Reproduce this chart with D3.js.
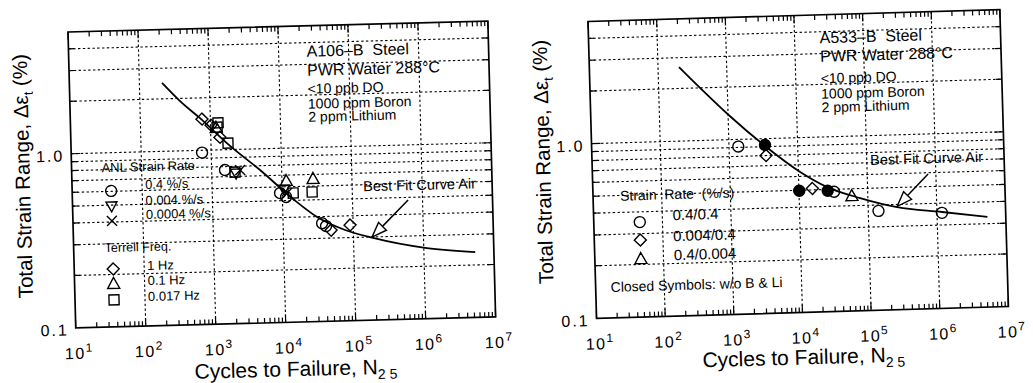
<!DOCTYPE html>
<html><head><meta charset="utf-8">
<script src="https://cdn.jsdelivr.net/npm/d3@7"></script>
<style>
html,body{margin:0;padding:0;background:#fff;}
svg{display:block;font-family:"Liberation Sans",Arial,Helvetica,sans-serif;}
text{fill:#000;white-space:pre;}
</style></head><body>
<svg id="chart" width="1033" height="383"></svg>
<script>
// ---------------- DATA ----------------
const xDomain = [10, 1e7];
const yDomain = [0.1, 5];
const xTickExponents = [1, 2, 3, 4, 5, 6, 7];
const xGridValues = [1e2, 1e3, 1e4, 1e5, 1e6];
const yGridValues = [0.2, 0.3, 0.4, 0.5, 0.6, 0.7, 0.8, 0.9, 1, 2, 3, 4];
const yTickValues = [0.1, 1.0];
const yTickLabels = ["0.1", "1.0"];

// Left: A106-B steel  [cycles, strain range %]
const a106Anl04 = [[740,0.97],[1550,0.765],[9300,0.553],[11300,0.524],[36100,0.366],[41000,0.352]];
const a106Anl0004 = [[2220,0.732],[10600,0.582]];
const a106Anl00004 = [[2550,0.76],[11700,0.552]];
const a106Terrell1Hz = [[760,1.51],[1020,1.39],[1350,1.18],[48200,0.333],[90400,0.354]];
const a106Terrell01Hz = [[1200,1.34],[11500,0.647],[27800,0.659]];
const a106Terrell0017Hz = [[1285,1.43],[1240,1.35],[1750,1.09],[2150,0.741],[14300,0.551],[26700,0.555]];
const a106AirCurve = [[211,2.47],[375,1.93],[713,1.53],[1870,1.05],[4910,0.755],[14200,0.509],[30800,0.398],[76400,0.332],[190000,0.296],[1.11e6,0.254],[5.4e6,0.237]];
const a106Arrow = [[622000,0.483],[184000,0.2995]];
const a106Info = ["A106\u2013B  Steel", "PWR Water 288\u00b0C", "<10 ppb DO", "1000 ppm Boron", "2 ppm Lithium"];
const a106LegendHeaders = ["ANL Strain Rate", "Terrell Freq."];
const a106LegendLabels = ["0.4 %/s", "0.004 %/s", "0.0004 %/s", "1 Hz", "0.1 Hz", "0.017 Hz"];

// Right: A533-B steel
const a533Open04 = [[1365,0.91],[32400,0.484],[141000,0.37],[1.18e6,0.352]];
const a533Closed04 = [[3350,0.92],[10100,0.497],[26200,0.492]];
const a533Diamond = [[3430,0.80],[15700,0.51]];
const a533Triangle = [[58500,0.454]];
const a533AirCurve = [[202,2.65],[401,2.0],[1067,1.36],[3350,0.907],[10600,0.636],[25800,0.516],[77100,0.441],[265000,0.386],[1.19e6,0.356],[5.4e6,0.328]];
const a533Arrow = [[771000,0.59],[265000,0.39]];
const a533Info = ["A533\u2013B  Steel", "PWR Water 288\u00b0C", "<10 ppb DO", "1000 ppm Boron", "2 ppm Lithium"];
const a533LegendHeader = "Strain  Rate  (%/s)";
const a533LegendLabels = ["0.4/0.4", "0.004/0.4", "0.4/0.004"];
const a533Note = "Closed Symbols: w/o B & Li";
const curveLabel = "Best Fit Curve Air";

// ---------------- DRAWING ----------------
const svg = d3.select("#chart");
const INK = "#000";

const shapes = {
  circle: "M5.5,0A5.5,5.5 0 1,1 -5.5,0A5.5,5.5 0 1,1 5.5,0Z",
  diamond: "M0,-6L6,0L0,6L-6,0Z",
  square: "M-5,-5H5V5H-5Z",
  triUp: "M0,-6.5L6,4.5L-6,4.5Z",
  triDown: "M0,6L-5.5,-4L5.5,-4Z",
  cross: "M-5,-5L5,5M5,-5L-5,5"
};

function marker(g, shape, px, py, filled) {
  g.append("path").attr("d", shapes[shape])
    .attr("transform", `translate(${px},${py})`)
    .attr("fill", filled ? INK : "none")
    .attr("stroke", INK).attr("stroke-width", 1.4);
}

function drawPanel(cfg) {
  const g = svg.append("g")
    .attr("transform", `translate(${cfg.tx},${cfg.ty}) rotate(${cfg.angle})`);
  const x = d3.scaleLog().domain(xDomain).range([0, cfg.W]);
  const y = d3.scaleLog().domain(yDomain).range([cfg.H, 0]);
  const W = cfg.W, H = cfg.H;

  // dotted grid
  g.selectAll(".vg").data(xGridValues).join("line")
    .attr("x1", d => x(d)).attr("x2", d => x(d)).attr("y1", 0).attr("y2", H)
    .attr("stroke", INK).attr("stroke-width", 1.1).attr("stroke-dasharray", "2.4,2.4");
  g.selectAll(".hg").data(yGridValues).join("line")
    .attr("x1", 0).attr("x2", W).attr("y1", d => y(d)).attr("y2", d => y(d))
    .attr("stroke", INK).attr("stroke-width", 1.1).attr("stroke-dasharray", "2.4,2.4");

  // minor/major ticks on x (top & bottom)
  const xt = [];
  for (let e = 1; e < 7; e++) for (let m = 1; m < 10; m++) xt.push([m * Math.pow(10, e), m === 1]);
  xt.push([1e7, true]);
  xt.forEach(([v, maj]) => {
    const len = maj ? 8 : 5;
    g.append("line").attr("x1", x(v)).attr("x2", x(v)).attr("y1", 0).attr("y2", len).attr("stroke", INK).attr("stroke-width", 1.2);
    g.append("line").attr("x1", x(v)).attr("x2", x(v)).attr("y1", H).attr("y2", H - len).attr("stroke", INK).attr("stroke-width", 1.2);
  });
  yGridValues.forEach(v => {
    const len = v === 1 ? 9 : 6;
    g.append("line").attr("x1", 0).attr("x2", len).attr("y1", y(v)).attr("y2", y(v)).attr("stroke", INK).attr("stroke-width", 1.2);
    g.append("line").attr("x1", W).attr("x2", W - len).attr("y1", y(v)).attr("y2", y(v)).attr("stroke", INK).attr("stroke-width", 1.2);
  });

  // frame
  g.append("rect").attr("x", 0).attr("y", 0).attr("width", W).attr("height", H)
    .attr("fill", "none").attr("stroke", INK).attr("stroke-width", 1.7);

  // x tick labels
  xTickExponents.forEach(e => {
    const t = g.append("text").attr("x", x(Math.pow(10, e)) + 3).attr("y", H + cfg.xLabDy)
      .attr("text-anchor", "middle").attr("font-size", 16).attr("letter-spacing", 1.5);
    t.append("tspan").text("10");
    t.append("tspan").attr("font-size", 12).attr("dy", -7).text(String(e));
  });
  // y tick labels
  yTickValues.forEach((v, i) => {
    g.append("text").attr("x", -7).attr("y", y(v) + 7.5)
      .attr("text-anchor", "end").attr("font-size", 16).attr("letter-spacing", 2)
      .text(yTickLabels[i]);
  });

  // axis titles
  const xt2 = g.append("text").attr("x", cfg.xTitleX).attr("y", H + cfg.xTitleDy)
    .attr("text-anchor", "middle").attr("font-size", 21);
  xt2.append("tspan").text("Cycles to Failure, N");
  xt2.append("tspan").attr("font-size", 14).attr("dy", 5).text("2 5");

  const yt = g.append("text")
    .attr("transform", `translate(${cfg.yTitleX},${cfg.yTitleY}) rotate(-90)`)
    .attr("text-anchor", "middle").attr("font-size", 20.5);
  yt.append("tspan").text("Total Strain Range, \u0394\u03b5");
  yt.append("tspan").attr("font-size", 13).attr("dy", 5).text("t");
  yt.append("tspan").attr("dy", -5).text(" (%)");

  // info text block
  cfg.info.forEach((s, i) => {
    g.append("text").attr("x", cfg.infoX).attr("y", cfg.infoY[i])
      .attr("font-size", i < 2 ? 16 : 14).text(s);
  });

  // best-fit curve
  const line = d3.line().x(d => x(d[0])).y(d => y(d[1])).curve(d3.curveMonotoneX);
  g.append("path").attr("d", line(cfg.curve)).attr("fill", "none")
    .attr("stroke", INK).attr("stroke-width", 1.8);

  // arrow
  const [tail, tip] = cfg.arrow;
  const p0 = [x(tail[0]), y(tail[1])], p1 = [x(tip[0]), y(tip[1])];
  const dx = p1[0] - p0[0], dy = p1[1] - p0[1], L = Math.hypot(dx, dy);
  const ux = dx / L, uy = dy / L, hl = 15, hw = 5.5;
  const bx = p1[0] - ux * hl, by = p1[1] - uy * hl;
  g.append("line").attr("x1", p0[0]).attr("y1", p0[1]).attr("x2", bx).attr("y2", by)
    .attr("stroke", INK).attr("stroke-width", 1.5);
  g.append("path").attr("d", `M${p1[0]},${p1[1]}L${bx - uy * hw},${by + ux * hw}L${bx + uy * hw},${by - ux * hw}Z`)
    .attr("fill", "#fff").attr("stroke", INK).attr("stroke-width", 1.4);
  g.append("text").attr("x", cfg.curveLabX).attr("y", cfg.curveLabY)
    .attr("font-size", 14.5).text(curveLabel);

  return { g, x, y };
}

// ---------- Left panel ----------
const L = drawPanel({
  tx: 68, ty: 32, angle: -1.5, W: 420, H: 296,
  xLabDy: 31, xTitleX: 219, xTitleDy: 54, yTitleX: -42, yTitleY: 143,
  info: a106Info, infoX: 238, infoY: [31, 50, 68, 83, 96],
  curve: a106AirCurve, arrow: a106Arrow, curveLabX: 291, curveLabY: 167
});
[[a106Anl04, "circle"], [a106Anl0004, "triDown"], [a106Anl00004, "cross"],
 [a106Terrell1Hz, "diamond"], [a106Terrell01Hz, "triUp"], [a106Terrell0017Hz, "square"]]
  .forEach(([arr, sh]) => arr.forEach(d => marker(L.g, sh, L.x(d[0]), L.y(d[1]), false)));

// left legend
L.g.append("text").attr("x", 30).attr("y", 141).attr("font-size", 13).text(a106LegendHeaders[0]);
L.g.append("text").attr("x", 31).attr("y", 221).attr("font-size", 12.5).text(a106LegendHeaders[1]);
const leftLegShapes = ["circle", "triDown", "cross", "diamond", "triUp", "square"];
const leftLegSymY = [160, 175, 190, 238, 253, 269];
const leftLegTxtY = [159, 175, 189, 240, 255, 271];
a106LegendLabels.forEach((s, i) => {
  marker(L.g, leftLegShapes[i], 39, leftLegSymY[i], false);
  L.g.append("text").attr("x", 73).attr("y", leftLegTxtY[i]).attr("font-size", 13).text(s);
});

// ---------- Right panel ----------
const R = drawPanel({
  tx: 588, ty: 21.5, angle: -1.65, W: 412, H: 297,
  xLabDy: 31, xTitleX: 206, xTitleDy: 52, yTitleX: -42, yTitleY: 139,
  info: a533Info, infoX: 231, infoY: [28.5, 47, 68.5, 84, 97.5],
  curve: a533AirCurve, arrow: a533Arrow, curveLabX: 278, curveLabY: 151.5
});
a533Open04.forEach(d => marker(R.g, "circle", R.x(d[0]), R.y(d[1]), false));
a533Closed04.forEach(d => marker(R.g, "circle", R.x(d[0]), R.y(d[1]), true));
a533Diamond.forEach(d => marker(R.g, "diamond", R.x(d[0]), R.y(d[1]), false));
a533Triangle.forEach(d => marker(R.g, "triUp", R.x(d[0]), R.y(d[1]), false));

R.g.append("text").attr("x", 27).attr("y", 180).attr("font-size", 14).text(a533LegendHeader);
const rightLegShapes = ["circle", "diamond", "triUp"];
const rightLegSymY = [202, 220, 239];
const rightLegTxtY = [201, 222, 241];
a533LegendLabels.forEach((s, i) => {
  marker(R.g, rightLegShapes[i], 46, rightLegSymY[i], false);
  R.g.append("text").attr("x", 79).attr("y", rightLegTxtY[i]).attr("font-size", 15).text(s);
});
R.g.append("text").attr("x", 15).attr("y", 271).attr("font-size", 14).text(a533Note);
</script>
</body></html>
